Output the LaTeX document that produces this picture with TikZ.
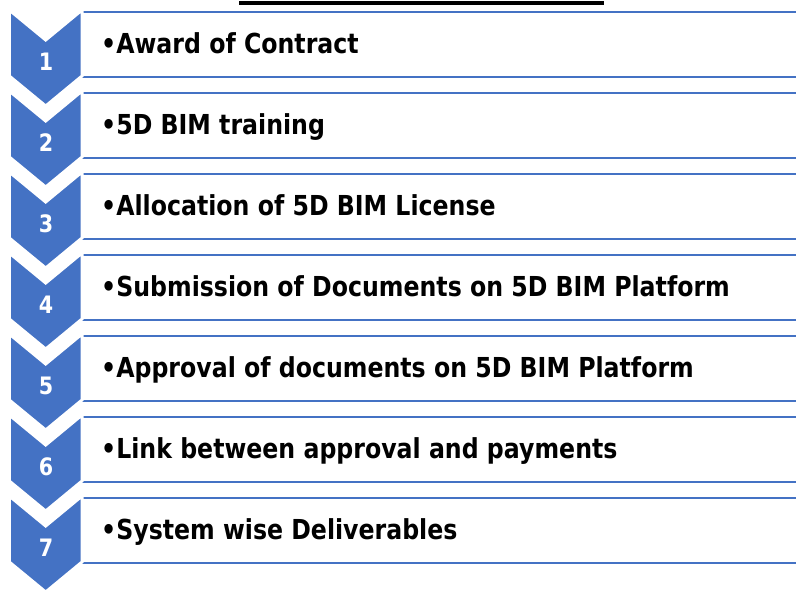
\documentclass[tikz,border=0pt]{standalone}
\usepackage{fontspec}
\setmainfont{DejaVu Sans}[FakeStretch=0.86]
\definecolor{obl}{HTML}{4472C4}
\begin{document}
\begin{tikzpicture}[x=1pt,y=-1pt,
  stepbox/.style={draw=obl,line width=2.6pt,fill=white},
  chev/.style={fill=obl,draw=white,line width=3pt,line join=miter},
  numlab/.style={text=white,font=\fontsize{24}{28}\selectfont\bfseries,inner sep=0pt,anchor=base},
  itemlab/.style={text=black,font=\fontsize{27.5}{32}\selectfont\bfseries,inner sep=0pt,anchor=base west}]
\useasboundingbox (0,0) rectangle (796,595);
\clip (0,0) rectangle (796,595);
\fill[black] (239,1) rectangle (604,5);
\foreach \i/\t in {1/{Award of Contract},2/{5D BIM training},3/{Allocation of 5D BIM License},4/{Submission of Documents on 5D BIM Platform},5/{Approval of documents on 5D BIM Platform},6/{Link between approval and payments},7/{System wise Deliverables}}{
  \pgfmathsetmacro{\T}{81*(\i-1)}
  \draw[stepbox] (82,12+\T) rectangle (820,77+\T);
  \node[itemlab] (t\i) at (101,53+\T) {•\t};
}
\foreach \i in {1,...,7}{
  \pgfmathsetmacro{\T}{10+81*(\i-1)}
  \draw[chev] (9.3,\T) -- (45.7,\T+30) -- (82,\T) -- (82,\T+66) -- (45.7,\T+96) -- (9.3,\T+66) -- cycle;
  \node[numlab] (n\i) at (46,\T+60) {\i};
}
\end{tikzpicture}
\end{document}
